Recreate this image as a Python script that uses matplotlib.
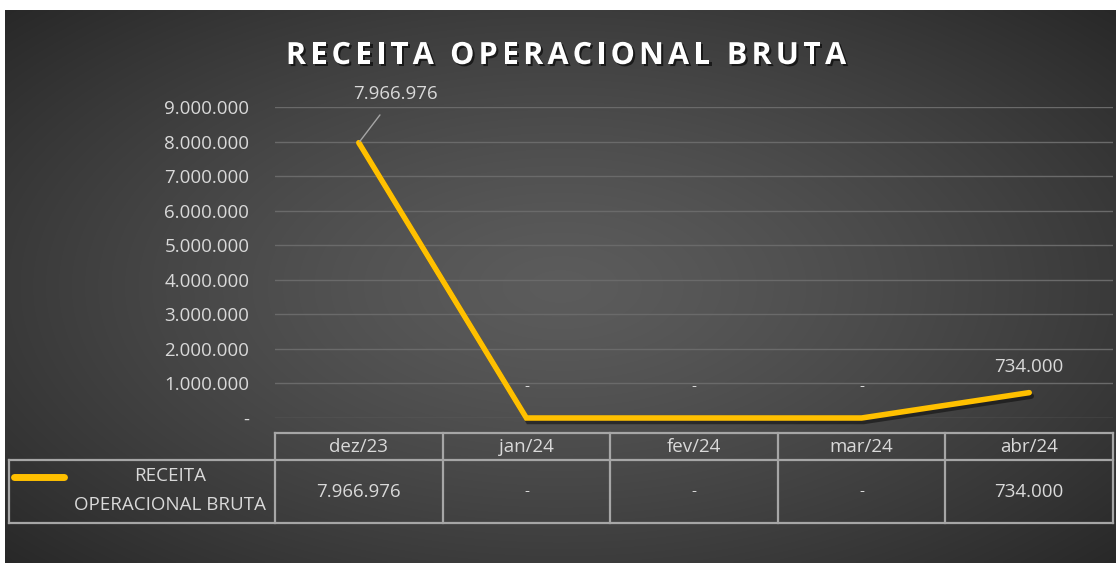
import matplotlib
matplotlib.use("Agg")
import matplotlib.pyplot as plt
import matplotlib.patheffects as pe
import numpy as np

# data
months = ["dez/23", "jan/24", "fev/24", "mar/24", "abr/24"]
receita = [7966976, 0, 0, 0, 734000]
series_name = "RECEITA OPERACIONAL BRUTA"
y_ticks = [0, 1000000, 2000000, 3000000, 4000000, 5000000, 6000000, 7000000, 8000000, 9000000]

W, H = 1116, 563
TXT = "#d9d9d9"
GRID = "#6a6a6a"
TAB = "#a6a6a6"
GOLD = "#ffc000"

plt.rcParams['font.family'] = ['Open Sans', 'DejaVu Sans']


def fmt(v):
    if v == 0:
        return "-"
    return f"{v:,.0f}".replace(",", ".")


def px(x0, y0, x1, y1):
    # pixel box (top-left origin) -> figure fraction rect
    return [x0 / W, 1 - y1 / H, (x1 - x0) / W, (y1 - y0) / H]


def spaced_text(fig, s, cx, cy, gap, **kw):
    # no letter-spacing in matplotlib, so lay the characters out one by one
    rend = fig.canvas.get_renderer()
    widths = []
    for ch in s:
        if ch == " ":
            widths.append(kw["fontsize"] * 100 / 72 * 0.26)
            continue
        t = fig.text(0, 0, ch, **kw)
        widths.append(t.get_window_extent(rend).width)
        t.remove()
    total = sum(widths) + gap * (len(s) - 1)
    xp = cx - total / 2
    for ch, w in zip(s, widths):
        if ch != " ":
            fig.text(xp / W, 1 - cy / H, ch, ha="left", va="center", **kw)
        xp += w + gap


fig = plt.figure(figsize=(W / 100, H / 100), dpi=100)
fig.patch.set_facecolor("white")

# dark radial background
bg = fig.add_axes(px(5, 10, W, H))
gx, gy = np.meshgrid(np.linspace(-1, 1, 400), np.linspace(-1, 1, 200))
r = np.sqrt((gx * 0.95) ** 2 + (gy * 0.9) ** 2)
shade = 0.36 - 0.2 * np.clip(r / 1.3, 0, 1) ** 1.3
bg.imshow(np.dstack([shade] * 3), aspect="auto", extent=[0, 1, 0, 1], interpolation="bilinear")
bg.set_axis_off()

# main plot
ax = fig.add_axes(px(275, 107, 1113, 418))
ax.set_facecolor("none")
x = np.arange(len(months))
ax.set_xlim(-0.5, len(months) - 0.5)
ax.set_ylim(0, 9000000)
ax.set_yticks(y_ticks)
ax.set_yticklabels([fmt(v) for v in y_ticks], color=TXT, fontsize=13.5)
ax.tick_params(axis="y", length=0, pad=18.5)
ax.set_xticks([])
for s in ax.spines.values():
    s.set_visible(False)
ax.grid(axis="y", color=GRID, linewidth=1)
ax.set_axisbelow(True)

ax.plot(x, receita, color=GOLD, linewidth=4, solid_capstyle="round", solid_joinstyle="miter",
        path_effects=[pe.SimpleLineShadow(offset=(1.5, -2.5), alpha=0.45, shadow_color="black"), pe.Normal()],
        clip_on=False, zorder=3)

# data labels
for i, v in enumerate(receita):
    if i == 0:
        ax.annotate(fmt(v), xy=(x[i], v), xytext=(x[i] + 0.22, v + 1400000),
                    ha="center", va="center", color=TXT, fontsize=13.5,
                    arrowprops=dict(arrowstyle="-", color="#a6a6a6", lw=1, shrinkA=8, shrinkB=1))
    elif v == 0:
        ax.text(x[i], v + 900000, fmt(v), ha="center", va="center", color=TXT, fontsize=11)
    else:
        ax.text(x[i], v + 750000, fmt(v), ha="center", va="center", color=TXT, fontsize=13.5)

spaced_text(fig, series_name, 566, 56, 4.2, color="white", fontsize=22, fontweight="bold",
            path_effects=[pe.withSimplePatchShadow(offset=(1.5, -1.5), alpha=0.6, shadow_rgbFace="black")])

# data table under the chart
tab = fig.add_axes(px(275, 433, 1113, 523))
tab.set_xlim(-0.5, len(months) - 0.5)
tab.set_ylim(0, 90)
tab.invert_yaxis()
tab.set_axis_off()
left = -0.5 - 266 / 167.6
lk = dict(color=TAB, lw=1.6, clip_on=False)
tab.plot([-0.5, len(months) - 0.5], [0, 0], **lk)
tab.plot([left, len(months) - 0.5], [27, 27], **lk)
tab.plot([left, len(months) - 0.5], [90, 90], **lk)
tab.plot([left, left], [27, 90], **lk)
for b in np.arange(len(months) + 1) - 0.5:
    tab.plot([b, b], [0, 90], **lk)
for i, m in enumerate(months):
    tab.text(x[i], 14, m, ha="center", va="center", color=TXT, fontsize=13.5, clip_on=False)
    tab.text(x[i], 59, fmt(receita[i]), ha="center", va="center", color=TXT,
             fontsize=13.5 if receita[i] else 11, clip_on=False)
tab.plot([left + 0.03, left + 0.33], [44, 44], color=GOLD, lw=5, solid_capstyle="round", clip_on=False)
tab.text(left + 0.96, 43, "RECEITA", ha="center", va="center", color=TXT, fontsize=13.5, clip_on=False)
tab.text(left + 0.96, 72, "OPERACIONAL BRUTA", ha="center", va="center", color=TXT, fontsize=13.5, clip_on=False)

fig.savefig("out.png", dpi=100)
